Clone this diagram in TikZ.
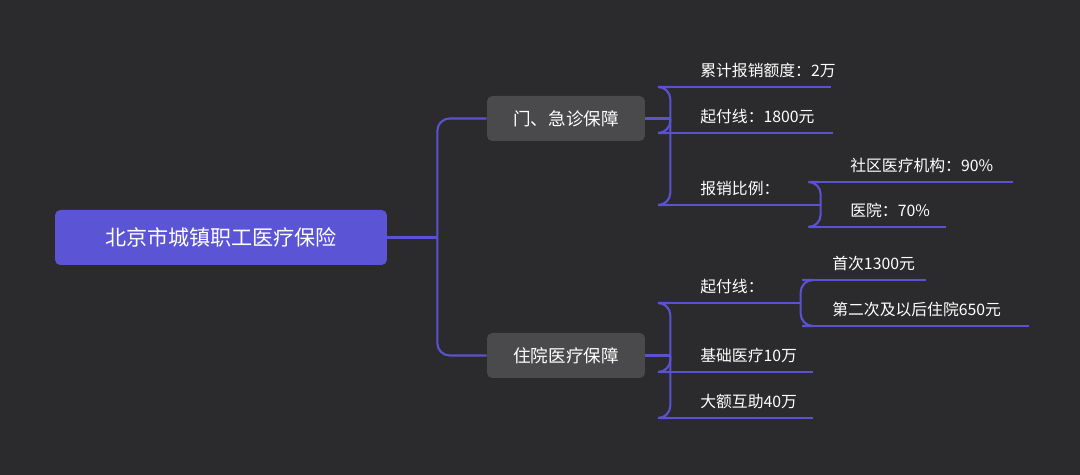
\documentclass[tikz,border=0pt]{standalone}
\usepackage{fontspec}
\setmainfont{Noto Sans CJK SC}
\definecolor{bg}{HTML}{2B2A2C}
\definecolor{rootblue}{HTML}{5B55D6}
\definecolor{linkblue}{HTML}{5A52D0}
\definecolor{boxgray}{HTML}{4A4A4C}
\begin{document}
\begin{tikzpicture}[x=0.02cm, y=-0.02cm,
  root/.style={rectangle, rounded corners=3pt, fill=rootblue, text=white,
    minimum width=6.64cm, minimum height=1.1cm, font=\fontsize{12}{14}\selectfont},
  %
  topic/.style={rectangle, rounded corners=3pt, fill=boxgray, text=white!92,
    minimum width=3.16cm, minimum height=0.9cm, font=\fontsize{10}{12}\selectfont},
  %
  leaf/.style={anchor=south west, inner xsep=0.6cm, inner ysep=0.18cm,
    text width=#1, align=left, text=white!90, font=\fontsize{9}{11}\selectfont},
  %
  link/.style={draw=linkblue, line width=1.2pt, rounded corners=7pt}
  ]

  \fill[bg] (0,0) rectangle (1080,475);

  % main topics
  \node [root] (insure) at (221,237.5) {北京市城镇职工医疗保险};
  \node [topic] (clinic) at (566,118.5) {门、急诊保障};
  \node [topic] (hosp) at (566,355.5) {住院医疗保障};

  % clinic leaves
  \node [leaf=2cm] (total) at (670,87) {累计报销额度：2万};
  \node [leaf=2.04cm] (startA) at (670,133) {起付线：1800元};
  \node [leaf=1.8cm] (ratio) at (670,205) {报销比例：};
  \node [leaf=2.64cm] (comm) at (820,182) {社区医疗机构：90\%};
  \node [leaf=1.3cm] (yiyuan) at (820,227) {医院：70\%};

  % hospital leaves
  \node [leaf=1.4cm] (startB) at (670,303) {起付线：};
  \node [leaf=1.26cm] (first) at (802,280) {首次1300元};
  \node [leaf=3.32cm] (later) at (802,326) {第二次及以后住院650元};
  \node [leaf=1.64cm] (basic) at (670,372) {基础医疗10万};
  \node [leaf=1.64cm] (large) at (670,418) {大额互助40万};

  % connectors
  \draw [link] (insure.east) -- ++(50,0) coordinate (hub);
  \draw [link] (hub) |- (clinic.west);
  \draw [link] (hub) |- (hosp.west);
  \draw [link] (clinic.east) -- ++(25,0) coordinate (hubA);
  \foreach \n in {total, startA, ratio}
    \draw [link] (hubA) |- (\n.south west);
  \draw [link] (hosp.east) -- ++(25,0) coordinate (hubB);
  \foreach \n in {startB, basic, large}
    \draw [link] (hubB) |- (\n.south west);
  \foreach \n in {comm, yiyuan}
    \draw [link] (ratio.south east) |- (\n.south west);
  \foreach \n in {first, later}
    \draw [link] (startB.south east) |- (\n.south west);

  % underlines
  \foreach \n in {total, startA, ratio, comm, yiyuan, startB, first, later, basic, large}
    \draw [link] (\n.south west) -- (\n.south east);
\end{tikzpicture}
\end{document}
